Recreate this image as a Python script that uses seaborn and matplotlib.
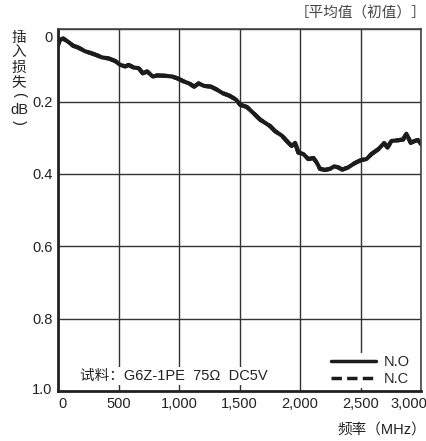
#!/usr/bin/env python3
import matplotlib
matplotlib.use("Agg")
import matplotlib.pyplot as plt
import matplotlib.transforms as mtransforms
from matplotlib.lines import Line2D
import seaborn as sns
import pandas as pd

# frequency (MHz) and insertion loss (dB)
freq_mhz = [0, 14, 42, 83, 125, 167, 222, 278, 319, 361, 417, 472, 514, 556,
            583, 625, 667, 700, 736, 783, 819, 889, 944, 986, 1042, 1083,
            1125, 1161, 1208, 1264, 1306, 1361, 1417, 1472, 1505, 1560, 1615,
            1670, 1712, 1753, 1794, 1849, 1890, 1931, 1959, 1986, 2027, 2069,
            2110, 2137, 2165, 2206, 2247, 2283, 2316, 2349, 2398, 2453, 2503,
            2549, 2591, 2646, 2695, 2723, 2755, 2810, 2852, 2879, 2915, 2948,
            2975, 3000]
no_loss = [0.044, 0.030, 0.026, 0.035, 0.046, 0.051, 0.061, 0.067, 0.072,
           0.078, 0.081, 0.088, 0.099, 0.103, 0.099, 0.106, 0.108, 0.122,
           0.117, 0.131, 0.128, 0.129, 0.131, 0.136, 0.145, 0.150, 0.159,
           0.150, 0.157, 0.159, 0.166, 0.177, 0.184, 0.195, 0.209, 0.215,
           0.232, 0.250, 0.259, 0.268, 0.282, 0.294, 0.309, 0.323, 0.314,
           0.341, 0.345, 0.359, 0.356, 0.368, 0.386, 0.389, 0.386, 0.379,
           0.382, 0.388, 0.382, 0.370, 0.362, 0.359, 0.345, 0.332, 0.315,
           0.327, 0.309, 0.307, 0.305, 0.289, 0.314, 0.309, 0.306, 0.318]
# N.C curve lies on top of N.O in the reference
nc_loss = list(no_loss)

x_ticks = [0, 500, 1000, 1500, 2000, 2500, 3000]
x_labels = ["0", "500", "1,000", "1,500", "2,000", "2,500", "3,000"]
y_ticks = [0, 0.2, 0.4, 0.6, 0.8, 1.0]
y_labels = ["0", "0.2", "0.4", "0.6", "0.8", "1.0"]

sns.set_style("white")
plt.rcParams['font.family'] = ['Liberation Sans', 'Noto Sans CJK SC', 'DejaVu Sans']

df = pd.DataFrame({"freq": freq_mhz, "NO": no_loss, "NC": nc_loss})

W, H = 427, 441
fig = plt.figure(figsize=(W / 100, H / 100), dpi=100)
ax = fig.add_axes([0.136, 0.113, 0.850, 0.821])

ink = "#1c1c1c"
dash = (0, (3, 1.5))
sns.lineplot(data=df, x="freq", y="NC", ax=ax, color=ink, lw=3, linestyle=dash)
sns.lineplot(data=df, x="freq", y="NO", ax=ax, color=ink, lw=3)

ax.set_xlim(0, 3000)
ax.set_ylim(1.0, 0)
ax.set_xticks(x_ticks)
ax.set_xticklabels(x_labels)
ax.set_yticks(y_ticks)
ax.set_yticklabels(y_labels)
ax.set_xlabel("")
ax.set_ylabel("")
ax.tick_params(length=0, labelsize=10.5, colors="#222222", pad=4)
ax.grid(True, color="#333333", lw=1)


def nudge(label, dx, dy):
    label.set_transform(label.get_transform() +
                        mtransforms.ScaledTranslation(dx / 100, dy / 100, fig.dpi_scale_trans))


# edge labels are shifted a little in the source
xl = ax.get_xticklabels()
nudge(xl[0], 4, 0)
nudge(xl[-1], -12, 0)
yl = ax.get_yticklabels()
nudge(yl[0], 0, -7)
nudge(yl[-1], 0, 3)

for side in ["top", "right"]:
    ax.spines[side].set_color("#444444")
    ax.spines[side].set_linewidth(1.2)
for side in ["left", "bottom"]:
    ax.spines[side].set_color("#222222")
    ax.spines[side].set_linewidth(2)

handles = [Line2D([], [], color=ink, lw=2.5),
           Line2D([], [], color=ink, lw=2.5, linestyle=dash)]
leg = ax.legend(handles, ["N.O", "N.C"], loc="lower right", frameon=True,
                fontsize=10.5, handlelength=3.1, handletextpad=0.5,
                borderpad=0.15, labelspacing=0.2, framealpha=1,
                bbox_to_anchor=(0.995, -0.012))
leg.get_frame().set_edgecolor("white")
leg.get_frame().set_linewidth(0)
leg.set_zorder(5)

ax.text(0.06, 0.022, "试料：G6Z-1PE  75Ω  DC5V", transform=ax.transAxes,
        fontsize=10.5, color="#222222", va="bottom", ha="left", zorder=5,
        bbox=dict(facecolor="white", edgecolor="none", pad=1.5))

fig.text(0.999, 0.972, "［平均值（初值）］", ha="right", va="center",
         fontsize=10.5, color="#444444")
fig.text(0.999, 0.025, "频率（MHz）", ha="right", va="center",
         fontsize=10.5, color="#222222")

# vertical y label: one character per row, then (dB) with turned parentheses
ylab_x = 19 / W
for ch, py in zip("插入损失", [38, 53, 67.5, 82]):
    fig.text(ylab_x, 1 - py / H, ch, ha="center", va="center",
             fontsize=10.5, color="#222222")
fig.text(ylab_x, 1 - 94 / H, "(", ha="center", va="center", rotation=-90,
         fontsize=10.5, color="#222222")
fig.text(ylab_x, 1 - 110 / H, "dB", ha="center", va="center",
         fontsize=10.5, color="#222222")
fig.text(ylab_x, 1 - 122 / H, ")", ha="center", va="center", rotation=-90,
         fontsize=10.5, color="#222222")

fig.savefig("out.png", dpi=100)
plt.close(fig)
